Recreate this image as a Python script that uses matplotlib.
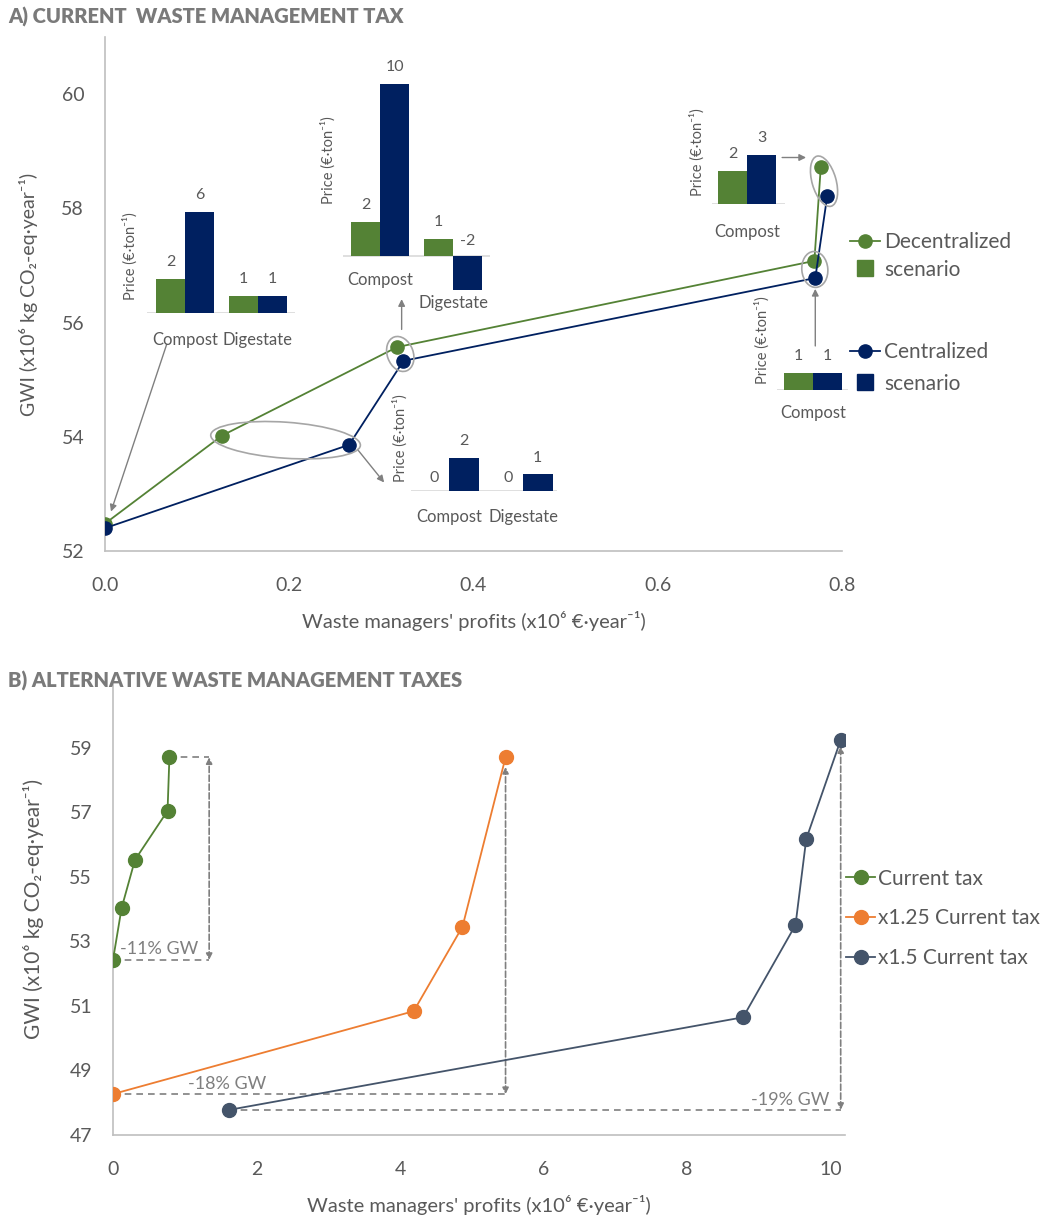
import matplotlib.pyplot as plt
from matplotlib.patches import Ellipse
from matplotlib.lines import Line2D
from matplotlib.transforms import ScaledTranslation
from matplotlib.ticker import FormatStrFormatter

plt.rcParams['font.family'] = ['Lato', 'DejaVu Sans']

# colores
GREEN = '#548235'
NAVY = '#002060'
ORANGE = '#ED7D31'
SLATE = '#44546A'
TXT = '#595959'
GRID = '#bfbfbf'
ANN = '#7f7f7f'

# --- datos panel A (beneficio x1e6 €/año, GWI x1e6 kg CO2-eq/año)
dec_x = [0.0, 0.127, 0.317, 0.770, 0.777]
dec_y = [52.48, 54.02, 55.57, 57.08, 58.73]
cen_x = [0.0, 0.265, 0.324, 0.771, 0.784]
cen_y = [52.40, 53.86, 55.33, 56.78, 58.22]

# --- datos panel B
cur_x = [0.0, 0.12, 0.306, 0.76, 0.786]
cur_y = [52.43, 54.04, 55.53, 57.05, 58.71]
t125_x = [0.0, 4.19, 4.87, 5.47]
t125_y = [48.27, 50.84, 53.46, 58.71]
t15_x = [1.62, 8.78, 9.51, 9.66, 10.14]
t15_y = [47.78, 50.65, 53.51, 56.18, 59.25]

# --- precios en los recuadros (€/ton)
ins1_cats = ['Compost', 'Digestate']
ins1_dec = [2, 1]
ins1_cen = [6, 1]
ins2_cats = ['Compost', 'Digestate']
ins2_dec = [2, 1]
ins2_cen = [10, -2]
ins3_cats = ['Compost']
ins3_dec = [2]
ins3_cen = [3]
ins4_cats = ['Compost']
ins4_dec = [1]
ins4_cen = [1]
ins5_cats = ['Compost', 'Digestate']
ins5_dec = [0, 0]
ins5_cen = [2, 1]

xticksA = [0.0, 0.2, 0.4, 0.6, 0.8]
yticksA = [52, 54, 56, 58, 60]
xticksB = [0, 2, 4, 6, 8, 10]
yticksB = [47, 49, 51, 53, 55, 57, 59]

W, H = 1054, 1216


def px_rect(x0, y0, x1, y1):
    return [x0 / W, 1 - y1 / H, (x1 - x0) / W, (y1 - y0) / H]


fig = plt.figure(figsize=(W / 100, H / 100), dpi=100)
axA = fig.add_axes(px_rect(105, 37, 842, 551))
axB = fig.add_axes(px_rect(113, 683.5, 845, 1135))


def style(ax):
    for s in ['top', 'right']:
        ax.spines[s].set_visible(False)
    for s in ['left', 'bottom']:
        ax.spines[s].set_color(GRID)
        ax.spines[s].set_linewidth(1.2)
    ax.tick_params(length=0, colors=TXT, labelsize=14)
    ax.tick_params(axis='y', pad=15)
    ax.tick_params(axis='x', pad=19)


ylab = 'GWI (x10⁶ kg CO₂-eq·year⁻¹)'
xlab = "Waste managers' profits (x10⁶ €·year⁻¹)"

# ---------------- panel A
style(axA)
axA.plot(dec_x, dec_y, color=GREEN, marker='o', ms=9.5, lw=1.3, zorder=3)
axA.plot(cen_x, cen_y, color=NAVY, marker='o', ms=9.5, lw=1.3, zorder=3)
axA.set_xlim(0, 0.8)
axA.set_ylim(52, 61)
axA.set_xticks(xticksA)
axA.set_yticks(yticksA)
axA.xaxis.set_major_formatter(FormatStrFormatter('%.1f'))
axA.set_xlabel(xlab, fontsize=14.5, color=TXT, labelpad=12)
axA.set_ylabel(ylab, fontsize=14, color=TXT, labelpad=17)


def ellipse(ax, x, y, w, h, ang):
    e = Ellipse((0, 0), w / 100, h / 100, angle=ang, fill=False, ec='#a6a6a6', lw=1.2,
                transform=fig.dpi_scale_trans + ScaledTranslation(x, y, ax.transData), zorder=5)
    fig.add_artist(e)


ellipse(axA, (dec_x[1] + cen_x[1]) / 2, (dec_y[1] + cen_y[1]) / 2, 150, 36, -4)
ellipse(axA, (dec_x[2] + cen_x[2]) / 2, (dec_y[2] + cen_y[2]) / 2, 36, 26, -70)
ellipse(axA, (dec_x[3] + cen_x[3]) / 2, (dec_y[3] + cen_y[3]) / 2, 36, 26, -85)
ellipse(axA, (dec_x[4] + cen_x[4]) / 2, (dec_y[4] + cen_y[4]) / 2, 52, 24, -74)


def arrow(ax, tail, head):
    ax.annotate('', xy=head, xytext=tail,
                arrowprops=dict(arrowstyle='-|>', color='#808080', lw=1, shrinkA=0, shrinkB=0,
                                mutation_scale=10))


arrow(axA, (0.067, 55.62), (0.0065, 52.69))
arrow(axA, (0.274, 53.78), (0.303, 53.20))
arrow(axA, (0.322, 55.88), (0.322, 56.41))
arrow(axA, (0.735, 58.89), (0.761, 58.89))
arrow(axA, (0.771, 55.59), (0.771, 56.59))

hA1 = [Line2D([], [], color=GREEN, marker='o', ms=9.5, lw=1.3),
       Line2D([], [], color=GREEN, marker='s', ls='none', ms=11)]
hA2 = [Line2D([], [], color=NAVY, marker='o', ms=9.5, lw=1.3),
       Line2D([], [], color=NAVY, marker='s', ls='none', ms=11)]
leg1 = axA.legend(hA1, ['Decentralized', 'scenario'], loc='center left',
                  bbox_to_anchor=(850 / W, 1 - 256 / H), bbox_transform=fig.transFigure,
                  frameon=False, fontsize=15, handlelength=1.45, handletextpad=0.2,
                  labelspacing=0.35, borderpad=0, borderaxespad=0, labelcolor=TXT)
axA.add_artist(leg1)
axA.legend(hA2, ['Centralized', 'scenario'], loc='center left',
           bbox_to_anchor=(850 / W, 1 - 368 / H), bbox_transform=fig.transFigure,
           frameon=False, fontsize=15, handlelength=1.45, handletextpad=0.2,
           labelspacing=0.55, borderpad=0, borderaxespad=0, labelcolor=TXT)


# recuadros de precios
def bar_inset(cats, dec, cen, c0, ppx, base, left, right, ppv, ymin, ymax, cat_off, lab_xy):
    bottom = base - ymin * ppv
    top = base - ymax * ppv
    ax = fig.add_axes(px_rect(left, top, right, bottom))
    pos = list(range(len(cats)))
    ax.bar([p - 0.2 for p in pos], dec, 0.4, color=GREEN)
    ax.bar([p + 0.2 for p in pos], cen, 0.4, color=NAVY)
    ax.axhline(0, color='#d9d9d9', lw=1.2, zorder=0)
    ax.set_xlim((left - c0) / ppx, (right - c0) / ppx)
    ax.set_ylim(ymin, ymax)
    ax.axis('off')
    for p, a, b in zip(pos, dec, cen):
        for xx, v in [(p - 0.2, a), (p + 0.2, b)]:
            off = 12.2 if v > 0 else 9.5
            if v < 0:
                off = 10.8
            ax.annotate(str(v), (xx, max(v, 0)), xytext=(0, off), textcoords='offset points',
                        ha='center', va='center', fontsize=11.5, color=TXT)
    for p, c, o in zip(pos, cats, cat_off):
        ax.annotate(c, (p, 0), xytext=(0, -o * 0.72), textcoords='offset points',
                    ha='center', va='center', fontsize=12, color=TXT)
    fig.text(lab_xy[0] / W, 1 - lab_xy[1] / H, 'Price (€·ton⁻¹)', rotation=90,
             ha='center', va='center', fontsize=10.5, color=TXT)
    return ax


bar_inset(ins1_cats, ins1_dec, ins1_cen, 185, 73, 313, 147, 295, 16.8, 0, 6.5, [27, 27], (130, 256))
bar_inset(ins2_cats, ins2_dec, ins2_cen, 380, 73, 256, 343, 490, 17.2, -2, 10.3, [24, 47], (328, 160))
bar_inset(ins3_cats, ins3_dec, ins3_cen, 747, 72.5, 204, 712, 785, 16.3, 0, 3.2, [28], (697, 152))
bar_inset(ins4_cats, ins4_dec, ins4_cen, 813, 72.5, 390, 777, 848, 17, 0, 1.2, [23], (762, 340))
bar_inset(ins5_cats, ins5_dec, ins5_cen, 449, 74, 491, 411, 557, 16.5, 0, 2.2, [26, 26], (400, 438))

# ---------------- panel B
style(axB)
dash = (0, (4, 3))
axB.plot([cur_x[-1], 1.34], [cur_y[-1], cur_y[-1]], ls=dash, color=ANN, lw=1.2, zorder=1)
axB.plot([cur_x[0], 1.34], [cur_y[0], cur_y[0]], ls=dash, color=ANN, lw=1.2, zorder=1)
axB.plot([t125_x[0], t125_x[-1]], [t125_y[0], t125_y[0]], ls=dash, color=ANN, lw=1.2, zorder=1)
axB.plot([t15_x[0], t15_x[-1]], [t15_y[0], t15_y[0]], ls=dash, color=ANN, lw=1.2, zorder=1)


def vdash(ax, x, y0, y1):
    ax.annotate('', xy=(x, y0), xytext=(x, y1),
                arrowprops=dict(arrowstyle='<|-|>', color=ANN, lw=1.2, ls='--', shrinkA=0,
                                shrinkB=0, mutation_scale=9))


vdash(axB, 1.34, cur_y[-1], cur_y[0])
vdash(axB, t125_x[-1], t125_y[-1] - 0.3, t125_y[0])
vdash(axB, t15_x[-1], t15_y[-1] - 0.2, t15_y[0])

axB.plot(cur_x, cur_y, color=GREEN, marker='o', ms=10, lw=1.3, zorder=3, label='Current tax')
axB.plot(t125_x, t125_y, color=ORANGE, marker='o', ms=10, lw=1.3, zorder=3, label='x1.25 Current tax')
axB.plot(t15_x, t15_y, color=SLATE, marker='o', ms=10, lw=1.3, zorder=3, label='x1.5 Current tax')

axB.text(0.1, 52.77, '-11% GW', va='center', fontsize=13, color=ANN)
axB.text(1.05, 48.58, '-18% GW', va='center', fontsize=13, color=ANN)
axB.text(9.98, 48.08, '-19% GW', va='center', ha='right', fontsize=13, color=ANN)

axB.set_xlim(0, 10.2)
axB.set_ylim(47, 61)
axB.set_xticks(xticksB)
axB.set_yticks(yticksB)
axB.set_xlabel(xlab, fontsize=14.5, color=TXT, labelpad=12)
axB.set_ylabel(ylab, fontsize=15, color=TXT, labelpad=18)
axB.legend(loc='center left', bbox_to_anchor=(846 / W, 1 - 918.5 / H), bbox_transform=fig.transFigure,
           frameon=False, fontsize=15, handlelength=1.4, handletextpad=0.15, labelspacing=0.95,
           borderpad=0, borderaxespad=0, labelcolor=TXT)

fig.text(8 / W, 1 - 17 / H, 'A) CURRENT  WASTE MANAGEMENT TAX', va='center', fontsize=14.5,
         fontweight='heavy', color='#7a7a7a')
fig.text(8 / W, 1 - 681 / H, 'B) ALTERNATIVE WASTE MANAGEMENT TAXES', va='center', fontsize=14.5,
         fontweight='heavy', color='#7a7a7a')

fig.savefig('out.png', dpi=100)
